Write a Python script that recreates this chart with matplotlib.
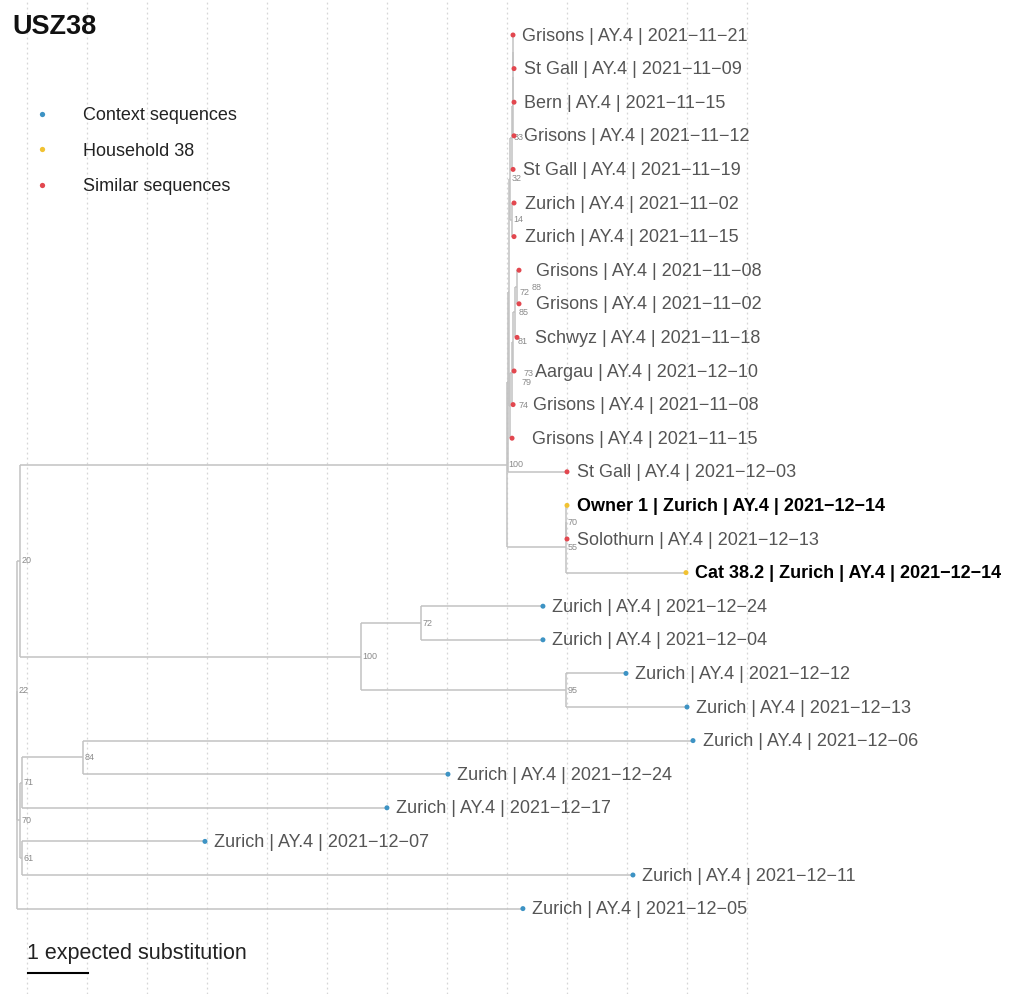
import matplotlib
matplotlib.use('Agg')
import matplotlib.pyplot as plt
from matplotlib.lines import Line2D
from matplotlib.collections import LineCollection
import numpy as np

plt.rcParams['font.family'] = ['Liberation Sans', 'DejaVu Sans']

# tips, top to bottom
tip_ids = ['t%d' % i for i in range(1, 28)]
tip_labels = [
    'Grisons | AY.4 | 2021−11−21', 'St Gall | AY.4 | 2021−11−09',
    'Bern | AY.4 | 2021−11−15', 'Grisons | AY.4 | 2021−11−12',
    'St Gall | AY.4 | 2021−11−19', 'Zurich | AY.4 | 2021−11−02',
    'Zurich | AY.4 | 2021−11−15', 'Grisons | AY.4 | 2021−11−08',
    'Grisons | AY.4 | 2021−11−02', 'Schwyz | AY.4 | 2021−11−18',
    'Aargau | AY.4 | 2021−12−10', 'Grisons | AY.4 | 2021−11−08',
    'Grisons | AY.4 | 2021−11−15', 'St Gall | AY.4 | 2021−12−03',
    'Owner 1 | Zurich | AY.4 | 2021−12−14', 'Solothurn | AY.4 | 2021−12−13',
    'Cat 38.2 | Zurich | AY.4 | 2021−12−14', 'Zurich | AY.4 | 2021−12−24',
    'Zurich | AY.4 | 2021−12−04', 'Zurich | AY.4 | 2021−12−12',
    'Zurich | AY.4 | 2021−12−13', 'Zurich | AY.4 | 2021−12−06',
    'Zurich | AY.4 | 2021−12−24', 'Zurich | AY.4 | 2021−12−17',
    'Zurich | AY.4 | 2021−12−07', 'Zurich | AY.4 | 2021−12−11',
    'Zurich | AY.4 | 2021−12−05',
]
tip_groups = (['Similar sequences'] * 14
              + ['Household 38', 'Similar sequences', 'Household 38']
              + ['Context sequences'] * 10)

# (parent, child, branch length in substitutions)
edges = [
    ('root', 'n22', 0.013), ('root', 't27', 8.44),
    ('n22', 'n20', 0.045), ('n22', 'n70', 0.045),
    ('n20', 'A', 8.117), ('n20', 'n100b', 5.683),
    ('A', 'n79', 0.017), ('A', 'B', 0.983),
    ('n79', 'n72', 0.017), ('n79', 't14', 0.983),
    ('n72', 'n32', 0.017), ('n72', 'n74', 0.017),
    ('n32', 'n33', 0.033), ('n32', 'n14', 0.033),
    ('n33', 'c3', 0.008), ('n33', 't5', 0.017),
    ('c3', 'c2', 0.008), ('c3', 't4', 0.025),
    ('c2', 'c1', 0.0), ('c2', 't3', 0.017),
    ('c1', 't1', 0.0), ('c1', 't2', 0.017),
    ('n14', 't6', 0.033), ('n14', 't7', 0.033),
    ('n74', 'n73', 0.033), ('n74', 't13', 0.033),
    ('n73', 'n81', 0.017), ('n73', 't12', 0.017),
    ('n81', 'n85', 0.033), ('n81', 't11', 0.017),
    ('n85', 'n88', 0.033), ('n85', 't10', 0.033),
    ('n88', 't8', 0.033), ('n88', 't9', 0.033),
    ('B', 'C', 0.0), ('B', 't17', 2.0),
    ('C', 't15', 0.017), ('C', 't16', 0.017),
    ('n100b', 'n72b', 1.0), ('n100b', 'n95', 3.417),
    ('n72b', 't18', 2.033), ('n72b', 't19', 2.033),
    ('n95', 't20', 1.0), ('n95', 't21', 2.017),
    ('n70', 'n71', 0.033), ('n70', 'n61', 0.033),
    ('n71', 'n84', 1.017), ('n71', 't24', 6.083),
    ('n84', 't22', 10.167), ('n84', 't23', 6.083),
    ('n61', 't25', 3.05), ('n61', 't26', 10.183),
]

bootstrap = {
    'n33': 33, 'n32': 32, 'n14': 14, 'n72': 72, 'n88': 88, 'n85': 85,
    'n81': 81, 'n73': 73, 'n79': 79, 'n74': 74, 'A': 100, 'C': 70, 'B': 55,
    'n20': 20, 'n22': 22, 'n100b': 100, 'n72b': 72, 'n95': 95,
    'n70': 70, 'n71': 71, 'n61': 61, 'n84': 84,
}

colors = {'Context sequences': '#3d93c4', 'Household 38': '#f1c232',
          'Similar sequences': '#e2474f'}

# label nudges (in pixels, 60 px = 1 substitution) for the crowded part
px = 1 / 60.0
tip_nudge = {'t6': 1.5, 't7': 1.5, 't8': 8, 't9': 8, 't10': 8,
             't11': 11, 't12': 10, 't13': 10}
node_nudge = {'n72': 9, 'n88': 13, 'n85': 2, 'n81': 3, 'n73': 10,
              'n79': 12, 'n74': 7}

# ---- layout
children = {}
blen = {}
for p, c, l in edges:
    children.setdefault(p, []).append(c)
    blen[c] = l

xpos = {'root': 0.0}
ypos = {}
order = []

def walk(node):
    for ch in children.get(node, []):
        xpos[ch] = xpos[node] + blen[ch]
        walk(ch)
    if node in children:
        ypos[node] = np.mean([ypos[ch] for ch in children[node]])
    else:
        order.append(node)
        ypos[node] = len(order)

walk('root')

fig = plt.figure(figsize=(10.12, 9.94), dpi=100)
ax = fig.add_axes([0, 0, 1, 1])
ax.set_xlim(-16.5 * px, (1012 - 16.5) * px)
ax.set_ylim(1 + (994 - 35) / 33.6, 1 - 35 / 33.6)
ax.axis('off')

# dotted grid
for g in np.arange(0.17, 12.5, 1.0):
    ax.axvline(g, color='#d6d6d6', lw=0.9, ls=(0, (1.5, 2.5)), zorder=0)

segs = []
for p, c, l in edges:
    segs.append([(xpos[p], ypos[c]), (xpos[c], ypos[c])])
for node, chs in children.items():
    ys = [ypos[ch] for ch in chs]
    segs.append([(xpos[node], min(ys)), (xpos[node], max(ys))])
segs.append([(xpos['root'] - 0.01, ypos['root']), (xpos['root'], ypos['root'])])
ax.add_collection(LineCollection(segs, colors='#c2c2c2', linewidths=1.1, zorder=1))

# node support values
for node, val in bootstrap.items():
    ax.text(xpos[node] + (1.5 + node_nudge.get(node, 0)) * px, ypos[node], str(val),
            fontsize=6.5, color='#8a8a8a', ha='left', va='center', zorder=3)

# tips
tx = [xpos[t] for t in tip_ids]
ty = [ypos[t] for t in tip_ids]
ax.scatter(tx, ty, s=13, c=[colors[g] for g in tip_groups], zorder=4, linewidths=0)
for t, lab, grp in zip(tip_ids, tip_labels, tip_groups):
    bold = grp == 'Household 38'
    ax.text(xpos[t] + (9.5 + tip_nudge.get(t, 0)) * px, ypos[t] + 0.03, lab,
            fontsize=13, ha='left', va='center',
            color='black' if bold else '#555555',
            fontweight='bold' if bold else 'normal', zorder=4)

# legend
handles = [Line2D([], [], ls='none', marker='o', ms=3.8, mec='none',
                  mfc=colors[k]) for k in colors]
fig.legend(handles, list(colors), loc='upper left',
           bbox_to_anchor=(33 / 1012, 1 - 107 / 994), frameon=False,
           fontsize=13, handlelength=1.0, handletextpad=1.75,
           labelspacing=1.03, borderpad=0, borderaxespad=0,
           labelcolor='#222222')

# title
fig.text(12 / 1012, 1 - 27 / 994, 'USZ38', fontsize=19.5, fontweight='bold',
         ha='left', va='center', color='#111111')

# scale bar
sb_y = 1 + (973 - 35) / 33.6
ax.plot([0.19, 1.19], [sb_y, sb_y], color='black', lw=1.5)
ax.text(0.17, 1 + (953 - 35) / 33.6, '1 expected substitution', fontsize=15.5,
        ha='left', va='center', color='#222222')

fig.savefig('out.png', dpi=100)
